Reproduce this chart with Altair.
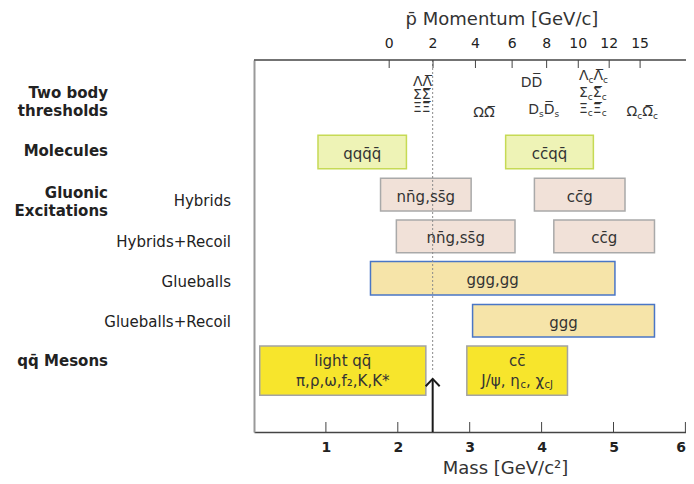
import altair as alt
import pandas as pd

FONT = "DejaVu Sans"

# ---------------- data ----------------
# bottom axis: mass [GeV/c^2]
mass_ticks = [1, 2, 3, 4, 5, 6]
# top axis: antiproton momentum ticks and the equivalent c.m. mass
mom_labels = ["0", "2", "4", "6", "8", "10", "12", "15"]
mom_mass = [1.88, 2.49, 3.08, 3.59, 4.07, 4.51, 4.94, 5.37]

# rows (row units counted from the top of the plot)
row_names = ["Molecules", "Hybrids", "Hybrids+Recoil", "Glueballs", "Glueballs+Recoil", "Mesons"]
row_pos = [2.20, 3.22, 4.22, 5.22, 6.24, 7.43]
row_half = [0.40, 0.39, 0.39, 0.40, 0.39, 0.59]

# boxes: mass ranges
box_row = ["Molecules", "Molecules", "Hybrids", "Hybrids", "Hybrids+Recoil", "Hybrids+Recoil",
           "Glueballs", "Glueballs+Recoil", "Mesons", "Mesons"]
box_kind = ["molecule", "molecule", "hybrid", "hybrid", "hybrid", "hybrid",
            "glueball", "glueball", "meson", "meson"]
box_lo = [0.89, 3.50, 1.76, 3.90, 1.98, 4.17, 1.62, 3.04, 0.08, 2.96]
box_hi = [2.12, 4.72, 3.02, 5.16, 3.63, 5.57, 5.02, 5.57, 2.39, 4.36]
box_label = ["qqq\u0304q\u0304", "cc\u0304qq\u0304", "nn\u0304g,ss\u0304g", "cc\u0304g",
             "nn\u0304g,ss\u0304g", "cc\u0304g", "ggg,gg", "ggg", "", ""]

kind_names = ["molecule", "hybrid", "glueball", "meson"]
kind_fill = ["#EEF3B6", "#F1E1D8", "#F6E4A9", "#F7E52C"]
kind_stroke = ["#C6DA55", "#A9A9A9", "#4A76C6", "#A3A3A3"]

# meson box texts
meson_line1 = ["light qq\u0304", "cc\u0304"]
meson_light_line2 = "\u03c0,\u03c1,\u03c9,f\u2082,K,K*"
meson_charm_line2 = [("J/\u03c8, \u03b7", False), ("c", True), (", \u03c7", False), ("cJ", True)]
meson_line_y = [7.20, 7.67]

# two-body thresholds
thr_base = ["\u039b", "\u03a3", "\u039e", "\u03a9", "D", "D", "\u039b", "\u03a3", "\u039e", "\u03a9"]
thr_sub = ["", "", "", "", "", "s", "c", "c", "c", "c"]
thr_mass = [2.21, 2.21, 2.21, 3.05, 3.71, 3.815, 4.52, 4.52, 4.52, 5.18]
thr_y = [0.53, 0.84, 1.14, 1.27, 0.55, 1.20, 0.38, 0.79, 1.17, 1.24]

# left-hand labels
group_labels = ["Two body", "thresholds", "Molecules", "Gluonic", "Excitations", "qq\u0304 Mesons"]
group_y = [0.78, 1.23, 2.18, 3.18, 3.62, 7.21]
sub_labels = ["Hybrids", "Hybrids+Recoil", "Glueballs", "Glueballs+Recoil"]
sub_y = [3.38, 4.35, 5.31, 6.27]

# markers
marker_mass = 2.485
dotted_end = 7.47
arrow_tip = 7.63

top_title = "p\u0304 Momentum [GeV/c]"
bottom_title = "Mass [GeV/c\u00b2]"

# ---------------- layout helpers ----------------
W, H = 432, 372
X_MAX, Y_MAX = 432 / 71.9, 8.9
PX = W / X_MAX

EM = {"\u039b": 0.684, "\u03a3": 0.632, "\u039e": 0.632, "\u03a9": 0.770, "D": 0.770,
      "c": 0.550, "s": 0.521, "J": 0.295, "/": 0.337, "\u03c8": 0.712, ",": 0.318,
      " ": 0.318, "\u03b7": 0.634, "\u03c7": 0.592}


def tw(s, fs):
    return sum(EM.get(ch, 0.0) for ch in s) * fs


xscale = alt.Scale(domain=[0, X_MAX], nice=False, zero=False)
yscale = alt.Scale(domain=[0, Y_MAX], reverse=True, nice=False, zero=False)

rp = dict(zip(row_names, row_pos))
rh = dict(zip(row_names, row_half))
boxes = pd.DataFrame({"row": box_row, "kind": box_kind, "lo": box_lo, "hi": box_hi, "t": box_label})
boxes["y1"] = [rp[r] - rh[r] for r in boxes.row]
boxes["y2"] = [rp[r] + rh[r] for r in boxes.row]
boxes["xc"] = (boxes.lo + boxes.hi) / 2
boxes["yc"] = [rp[r] + 0.05 for r in boxes.row]

btext = boxes[boxes.t != ""][["xc", "yc", "t"]].copy()
light_c = (box_lo[8] + box_hi[8]) / 2
charm_c = (box_lo[9] + box_hi[9]) / 2
btext = pd.concat([btext, pd.DataFrame({
    "xc": [light_c, charm_c, light_c],
    "yc": [meson_line_y[0], meson_line_y[0], meson_line_y[1]],
    "t": [meson_line1[0], meson_line1[1], meson_light_line2]})], ignore_index=True)

# segmented texts (with subscripts)
THR_FS, THR_SUB = 14, 9
seg = []
for b, s, m, yv in zip(thr_base, thr_sub, thr_mass, thr_y):
    cur = 0.0
    for txt, sub in [(b, False), (s, True), (b + "\u0305", False), (s, True)]:
        if not txt:
            continue
        fs = THR_SUB if sub else THR_FS
        seg.append({"x": m + cur / PX, "y": yv + (0.1 if sub else 0.0), "t": txt, "fs": fs})
        cur += tw(txt, fs)
total = sum(tw(t, 10 if sb else 15) for t, sb in meson_charm_line2)
cur = 0.0
for txt, sub in meson_charm_line2:
    fs = 10 if sub else 15
    seg.append({"x": charm_c - total / 2 / PX + cur / PX,
                "y": meson_line_y[1] + (0.1 if sub else 0.0), "t": txt, "fs": fs})
    cur += tw(txt, fs)
seg = pd.DataFrame(seg)

# ---------------- layers ----------------
xaxis = alt.Axis(values=mass_ticks, format="d", ticks=False, domain=True, domainColor="#444",
                 domainWidth=1.5, labelFontSize=14, labelFontWeight="bold", labelColor="#222",
                 labelPadding=8, labelFlush=5, grid=False, title=bottom_title, titleFontSize=18,
                 titleFontWeight="normal", titleColor="#333", titleX=251, titleY=36,
                 titleAlign="center", titleBaseline="middle")
yaxis = alt.Axis(labels=False, ticks=False, domain=True, domainColor="#999", domainWidth=2,
                 title=None, grid=False)

X = lambda f: alt.X(f, scale=xscale)
Y = lambda f: alt.Y(f, scale=yscale)

rects = alt.Chart(boxes).mark_rect(strokeWidth=1.5).encode(
    x=alt.X("lo:Q", scale=xscale, axis=xaxis),
    x2="hi:Q",
    y=alt.Y("y1:Q", scale=yscale, axis=yaxis),
    y2="y2:Q",
    fill=alt.Fill("kind:N", scale=alt.Scale(domain=kind_names, range=kind_fill), legend=None),
    stroke=alt.Stroke("kind:N", scale=alt.Scale(domain=kind_names, range=kind_stroke), legend=None),
)

dotted = alt.Chart(pd.DataFrame({"x": [marker_mass], "a": [0.0], "b": [dotted_end]})).mark_rule(
    color="#8a8a8a", strokeDash=[2, 2], strokeWidth=1).encode(
    x=X("x:Q"), y=Y("a:Q"), y2="b:Q")

arrow_df = pd.DataFrame({"x": [marker_mass], "a": [arrow_tip], "b": [Y_MAX]})
shaft = alt.Chart(arrow_df).mark_rule(color="#1a1a1a", strokeWidth=2).encode(
    x=X("x:Q"), y=Y("a:Q"), y2="b:Q")
head = alt.Chart(arrow_df).mark_point(shape="M-1,1.05L0,0L1,1.05", filled=False, size=196,
                                      strokeWidth=2, color="#1a1a1a", opacity=1).encode(
    x=X("x:Q"), y=Y("a:Q"))

box_texts = alt.Chart(btext).mark_text(fontSize=15, color="#333", baseline="middle", font=FONT).encode(
    x=X("xc:Q"), y=Y("yc:Q"), text="t:N")

seg_texts = alt.Chart(seg).mark_text(align="left", baseline="middle", color="#333", font=FONT).encode(
    x=X("x:Q"), y=Y("y:Q"), text="t:N",
    size=alt.Size("fs:Q", scale=None, legend=None))

glab = alt.Chart(pd.DataFrame({"t": group_labels, "y": group_y})).mark_text(
    align="right", baseline="middle", fontSize=15, fontWeight="bold", color="#222", font=FONT).encode(
    x=alt.value(-146), y=Y("y:Q"), text="t:N")
slab = alt.Chart(pd.DataFrame({"t": sub_labels, "y": sub_y})).mark_text(
    align="right", baseline="middle", fontSize=15, color="#222", font=FONT).encode(
    x=alt.value(-23), y=Y("y:Q"), text="t:N")

top_df = pd.DataFrame({"m": mom_mass, "lab": mom_labels})
top_line = alt.Chart(pd.DataFrame({"t": [top_title]})).mark_rule(color="#444", strokeWidth=1.5).encode(
    x=alt.value(0), x2=alt.value(W), y=alt.value(0))
top_ticks = alt.Chart(top_df).mark_rule(color="#444", strokeWidth=1).encode(
    x=X("m:Q"), y=alt.value(0), y2=alt.value(8))
top_labels = alt.Chart(top_df).mark_text(fontSize=14, color="#222", baseline="middle", font=FONT).encode(
    x=X("m:Q"), y=alt.value(-16), text="lab:N")
top_tt = alt.Chart(pd.DataFrame({"t": [top_title]})).mark_text(
    fontSize=18, color="#333", baseline="middle", font=FONT).encode(
    x=alt.value(248), y=alt.value(-40), text="t:N")
bot_ticks = alt.Chart(pd.DataFrame({"m": mass_ticks})).mark_rule(color="#444", strokeWidth=1).encode(
    x=X("m:Q"), y=alt.value(H - 10), y2=alt.value(H))

chart = alt.layer(
    rects, dotted, box_texts, seg_texts, glab, slab,
    top_line, top_ticks, top_labels, top_tt, bot_ticks, shaft, head,
).properties(
    width=W, height=H,
    autosize=alt.AutoSizeParams(type="none"),
    padding={"left": 246, "top": 52, "right": 0, "bottom": 44},
).configure(font=FONT).configure_view(strokeWidth=0)

chart.save("out.html", embed_options={"renderer": "svg", "actions": False})
